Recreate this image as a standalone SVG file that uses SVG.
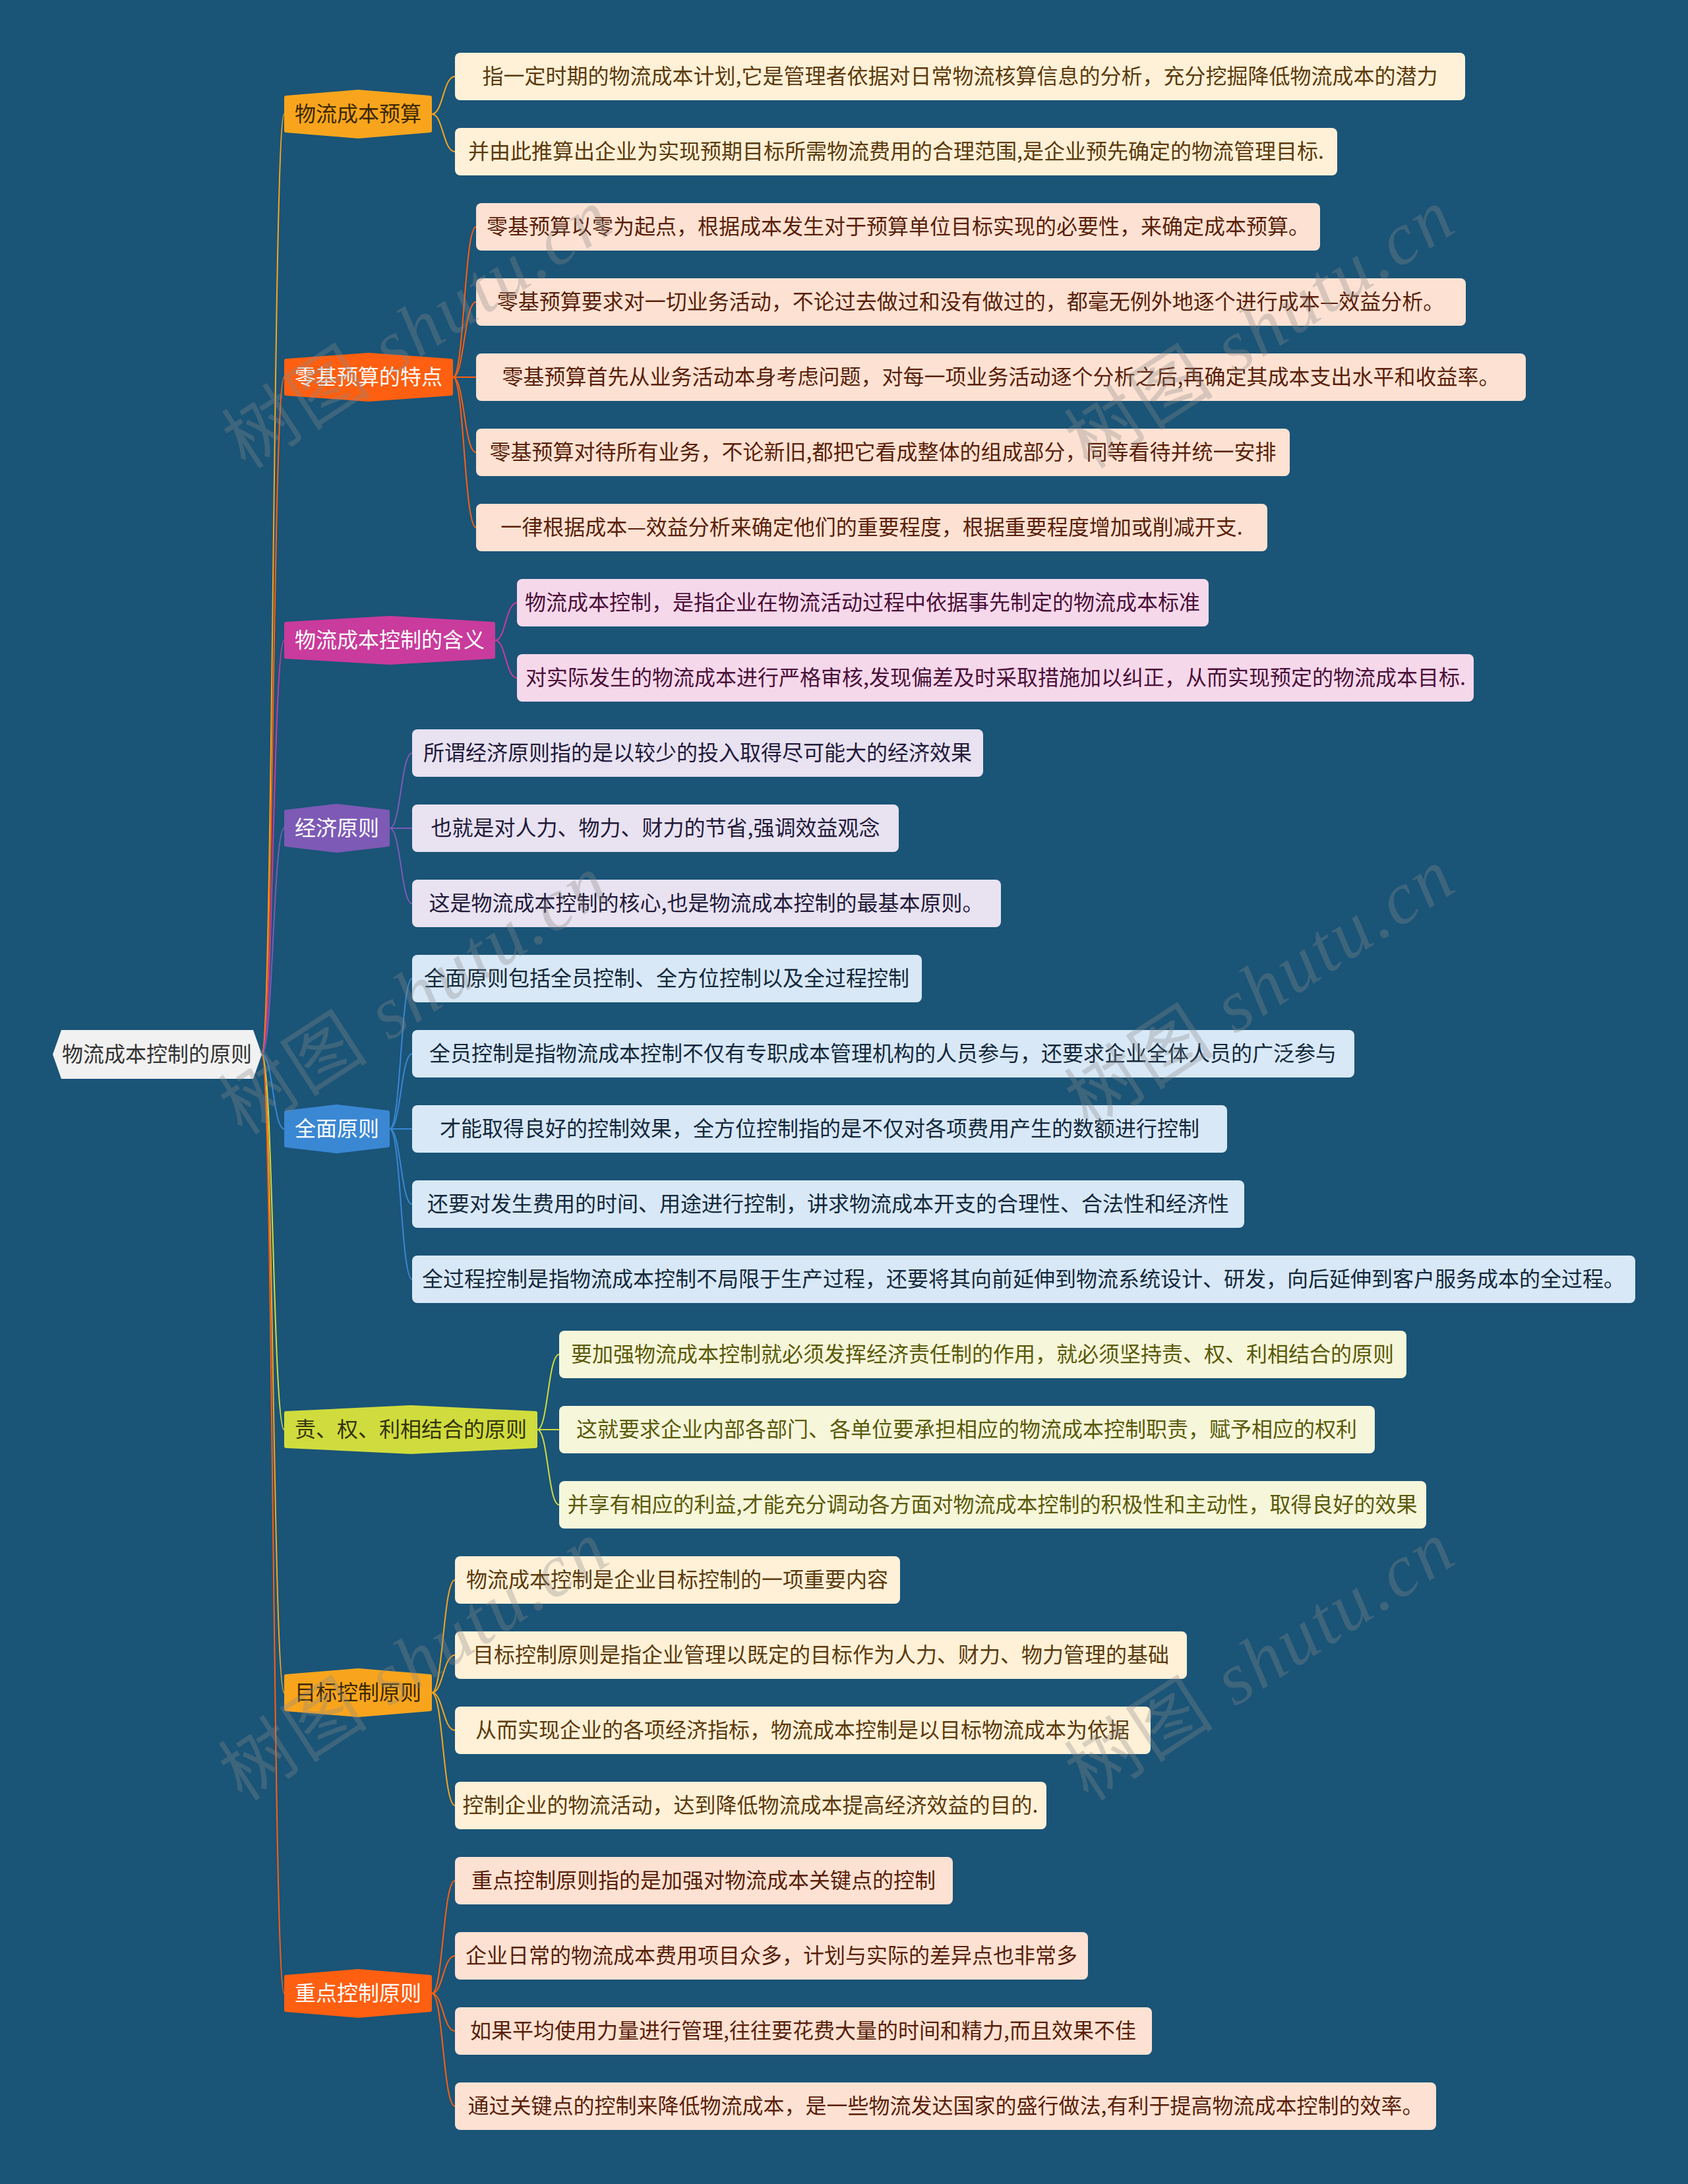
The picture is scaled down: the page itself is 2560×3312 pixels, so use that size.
<svg xmlns="http://www.w3.org/2000/svg" width="2560" height="3312" viewBox="0 0 2560 3312">
<style>
text{font-family:"Noto Sans CJK SC","Liberation Sans",sans-serif;font-size:32px;text-anchor:middle}
.c{fill:none;stroke-width:2}
.leaf{stroke:none}
.hx{stroke-width:6;stroke-linejoin:round}
.wm{font-family:"Liberation Serif","Noto Sans CJK SC",serif;font-size:112px;fill:#8a8a8a;fill-opacity:0.32;text-anchor:middle;letter-spacing:4px}
</style>
<rect x="0" y="0" width="2560" height="3312" fill="#1a5477"/>

<g id="connectors">
<path class="c" stroke="#f8a51d" d="M397 1599C414 1599 414 173 431 173"/>
<path class="c" stroke="#fe5f10" d="M397 1599C414 1599 414 572 431 572"/>
<path class="c" stroke="#c93b9c" d="M397 1599C414 1599 414 971 431 971"/>
<path class="c" stroke="#7d5ab5" d="M397 1599C414 1599 414 1256 431 1256"/>
<path class="c" stroke="#3a87d3" d="M397 1599C414 1599 414 1712 431 1712"/>
<path class="c" stroke="#d0dc3d" d="M397 1599C414 1599 414 2168 431 2168"/>
<path class="c" stroke="#f8a51d" d="M397 1599C414 1599 414 2567 431 2567"/>
<path class="c" stroke="#fe5f10" d="M397 1599C414 1599 414 3023 431 3023"/>

<path class="c" stroke="#f8a51d" d="M655 173C672 173 672 116 690 116"/>
<path class="c" stroke="#f8a51d" d="M655 173C672 173 672 230 690 230"/>

<path class="c" stroke="#fe5f10" d="M687 572C704 572 704 344 722 344"/>
<path class="c" stroke="#fe5f10" d="M687 572C704 572 704 458 722 458"/>
<path class="c" stroke="#fe5f10" d="M687 572C704 572 704 572 722 572"/>
<path class="c" stroke="#fe5f10" d="M687 572C704 572 704 686 722 686"/>
<path class="c" stroke="#fe5f10" d="M687 572C704 572 704 800 722 800"/>

<path class="c" stroke="#c93b9c" d="M751 971C767 971 767 914 784 914"/>
<path class="c" stroke="#c93b9c" d="M751 971C767 971 767 1028 784 1028"/>

<path class="c" stroke="#7d5ab5" d="M591 1256C608 1256 608 1142 625 1142"/>
<path class="c" stroke="#7d5ab5" d="M591 1256C608 1256 608 1256 625 1256"/>
<path class="c" stroke="#7d5ab5" d="M591 1256C608 1256 608 1370 625 1370"/>

<path class="c" stroke="#3a87d3" d="M591 1712C608 1712 608 1484 625 1484"/>
<path class="c" stroke="#3a87d3" d="M591 1712C608 1712 608 1598 625 1598"/>
<path class="c" stroke="#3a87d3" d="M591 1712C608 1712 608 1712 625 1712"/>
<path class="c" stroke="#3a87d3" d="M591 1712C608 1712 608 1826 625 1826"/>
<path class="c" stroke="#3a87d3" d="M591 1712C608 1712 608 1940 625 1940"/>

<path class="c" stroke="#d0dc3d" d="M815 2168C831 2168 831 2054 848 2054"/>
<path class="c" stroke="#d0dc3d" d="M815 2168C831 2168 831 2168 848 2168"/>
<path class="c" stroke="#d0dc3d" d="M815 2168C831 2168 831 2282 848 2282"/>

<path class="c" stroke="#f8a51d" d="M655 2567C672 2567 672 2396 690 2396"/>
<path class="c" stroke="#f8a51d" d="M655 2567C672 2567 672 2510 690 2510"/>
<path class="c" stroke="#f8a51d" d="M655 2567C672 2567 672 2624 690 2624"/>
<path class="c" stroke="#f8a51d" d="M655 2567C672 2567 672 2738 690 2738"/>

<path class="c" stroke="#fe5f10" d="M655 3023C672 3023 672 2852 690 2852"/>
<path class="c" stroke="#fe5f10" d="M655 3023C672 3023 672 2966 690 2966"/>
<path class="c" stroke="#fe5f10" d="M655 3023C672 3023 672 3080 690 3080"/>
<path class="c" stroke="#fe5f10" d="M655 3023C672 3023 672 3194 690 3194"/>
</g>

<g id="root">
<polygon points="80,1599 93,1562 384,1562 397,1599 384,1636 93,1636" fill="#f1f1f1"/>
<text x="238" y="1610" fill="#333333">物流成本控制的原则</text>
</g>

<g id="b1">
<polygon class="hx" points="434,148 543,139 652,148 652,198 543,207 434,198" fill="#f8a51d" stroke="#f8a51d"/>
<text x="543" y="184" fill="#3c2800">物流成本预算</text>
</g>
<g id="b2">
<polygon class="hx" points="434,547 559,538 684,547 684,597 559,606 434,597" fill="#fe5f10" stroke="#fe5f10"/>
<text x="559" y="583" fill="#ffffff">零基预算的特点</text>
</g>
<g id="b3">
<polygon class="hx" points="434,946 591,937 748,946 748,996 591,1005 434,996" fill="#c93b9c" stroke="#c93b9c"/>
<text x="591" y="982" fill="#ffffff">物流成本控制的含义</text>
</g>
<g id="b4">
<polygon class="hx" points="434,1231 511,1222 588,1231 588,1281 511,1290 434,1281" fill="#7d5ab5" stroke="#7d5ab5"/>
<text x="511" y="1267" fill="#ffffff">经济原则</text>
</g>
<g id="b5">
<polygon class="hx" points="434,1687 511,1678 588,1687 588,1737 511,1746 434,1737" fill="#3a87d3" stroke="#3a87d3"/>
<text x="511" y="1723" fill="#ffffff">全面原则</text>
</g>
<g id="b6">
<polygon class="hx" points="434,2143 623,2134 812,2143 812,2193 623,2202 434,2193" fill="#d0dc3d" stroke="#d0dc3d"/>
<text x="623" y="2179" fill="#33330a">责、权、利相结合的原则</text>
</g>
<g id="b7">
<polygon class="hx" points="434,2542 543,2533 652,2542 652,2592 543,2601 434,2592" fill="#f8a51d" stroke="#f8a51d"/>
<text x="543" y="2578" fill="#3c2800">目标控制原则</text>
</g>
<g id="b8">
<polygon class="hx" points="434,2998 543,2989 652,2998 652,3048 543,3057 434,3048" fill="#fe5f10" stroke="#fe5f10"/>
<text x="543" y="3034" fill="#ffffff">重点控制原则</text>
</g>

<g id="b1-leaves" fill="#fef1d7">
<g id="l1-1"><rect x="690" y="80" width="1532" height="72" rx="8" fill="#fef1d7"/><text x="1456" y="127" fill="#5c3a0e">指一定时期的物流成本计划,它是管理者依据对日常物流核算信息的分析，充分挖掘降低物流成本的潜力</text></g>
<g id="l1-2"><rect x="690" y="194" width="1338" height="72" rx="8" fill="#fef1d7"/><text x="1359" y="241" fill="#5c3a0e">并由此推算出企业为实现预期目标所需物流费用的合理范围,是企业预先确定的物流管理目标.</text></g>
</g>

<g id="b2-leaves">
<g id="l2-1"><rect x="722" y="308" width="1280" height="72" rx="8" fill="#fde2d3"/><text x="1362" y="355" fill="#5a1f0a">零基预算以零为起点，根据成本发生对于预算单位目标实现的必要性，来确定成本预算。</text></g>
<g id="l2-2"><rect x="722" y="422" width="1501" height="72" rx="8" fill="#fde2d3"/><text x="1472" y="469" fill="#5a1f0a">零基预算要求对一切业务活动，不论过去做过和没有做过的，都毫无例外地逐个进行成本—效益分析。</text></g>
<g id="l2-3"><rect x="722" y="536" width="1592" height="72" rx="8" fill="#fde2d3"/><text x="1518" y="583" fill="#5a1f0a">零基预算首先从业务活动本身考虑问题，对每一项业务活动逐个分析之后,再确定其成本支出水平和收益率。</text></g>
<g id="l2-4"><rect x="722" y="650" width="1234" height="72" rx="8" fill="#fde2d3"/><text x="1339" y="697" fill="#5a1f0a">零基预算对待所有业务，不论新旧,都把它看成整体的组成部分，同等看待并统一安排</text></g>
<g id="l2-5"><rect x="722" y="764" width="1200" height="72" rx="8" fill="#fde2d3"/><text x="1322" y="811" fill="#5a1f0a">一律根据成本—效益分析来确定他们的重要程度，根据重要程度增加或削减开支.</text></g>
</g>

<g id="b3-leaves">
<g id="l3-1"><rect x="784" y="878" width="1049" height="72" rx="8" fill="#f6d8eb"/><text x="1308" y="925" fill="#4a1038">物流成本控制，是指企业在物流活动过程中依据事先制定的物流成本标准</text></g>
<g id="l3-2"><rect x="784" y="992" width="1451" height="72" rx="8" fill="#f6d8eb"/><text x="1510" y="1039" fill="#4a1038">对实际发生的物流成本进行严格审核,发现偏差及时采取措施加以纠正，从而实现预定的物流成本目标.</text></g>
</g>

<g id="b4-leaves">
<g id="l4-1"><rect x="625" y="1106" width="866" height="72" rx="8" fill="#e8e2f1"/><text x="1058" y="1153" fill="#221a3a">所谓经济原则指的是以较少的投入取得尽可能大的经济效果</text></g>
<g id="l4-2"><rect x="625" y="1220" width="738" height="72" rx="8" fill="#e8e2f1"/><text x="994" y="1267" fill="#221a3a">也就是对人力、物力、财力的节省,强调效益观念</text></g>
<g id="l4-3"><rect x="625" y="1334" width="893" height="72" rx="8" fill="#e8e2f1"/><text x="1071" y="1381" fill="#221a3a">这是物流成本控制的核心,也是物流成本控制的最基本原则。</text></g>
</g>

<g id="b5-leaves">
<g id="l5-1"><rect x="625" y="1448" width="773" height="72" rx="8" fill="#d8e8f6"/><text x="1011" y="1495" fill="#14283c">全面原则包括全员控制、全方位控制以及全过程控制</text></g>
<g id="l5-2"><rect x="625" y="1562" width="1429" height="72" rx="8" fill="#d8e8f6"/><text x="1339" y="1609" fill="#14283c">全员控制是指物流成本控制不仅有专职成本管理机构的人员参与，还要求企业全体人员的广泛参与</text></g>
<g id="l5-3"><rect x="625" y="1676" width="1236" height="72" rx="8" fill="#d8e8f6"/><text x="1243" y="1723" fill="#14283c">才能取得良好的控制效果，全方位控制指的是不仅对各项费用产生的数额进行控制</text></g>
<g id="l5-4"><rect x="625" y="1790" width="1262" height="72" rx="8" fill="#d8e8f6"/><text x="1256" y="1837" fill="#14283c">还要对发生费用的时间、用途进行控制，讲求物流成本开支的合理性、合法性和经济性</text></g>
<g id="l5-5"><rect x="625" y="1904" width="1855" height="72" rx="8" fill="#d8e8f6"/><text x="1552" y="1951" fill="#14283c">全过程控制是指物流成本控制不局限于生产过程，还要将其向前延伸到物流系统设计、研发，向后延伸到客户服务成本的全过程。</text></g>
</g>

<g id="b6-leaves">
<g id="l6-1"><rect x="848" y="2018" width="1285" height="72" rx="8" fill="#f6f6da"/><text x="1490" y="2065" fill="#5a5a0a">要加强物流成本控制就必须发挥经济责任制的作用，就必须坚持责、权、利相结合的原则</text></g>
<g id="l6-2"><rect x="848" y="2132" width="1237" height="72" rx="8" fill="#f6f6da"/><text x="1466" y="2179" fill="#5a5a0a">这就要求企业内部各部门、各单位要承担相应的物流成本控制职责，赋予相应的权利</text></g>
<g id="l6-3"><rect x="848" y="2246" width="1315" height="72" rx="8" fill="#f6f6da"/><text x="1505" y="2293" fill="#5a5a0a">并享有相应的利益,才能充分调动各方面对物流成本控制的积极性和主动性，取得良好的效果</text></g>
</g>

<g id="b7-leaves">
<g id="l7-1"><rect x="690" y="2360" width="675" height="72" rx="8" fill="#fef1d7"/><text x="1027" y="2407" fill="#5c3a0e">物流成本控制是企业目标控制的一项重要内容</text></g>
<g id="l7-2"><rect x="690" y="2474" width="1110" height="72" rx="8" fill="#fef1d7"/><text x="1245" y="2521" fill="#5c3a0e">目标控制原则是指企业管理以既定的目标作为人力、财力、物力管理的基础</text></g>
<g id="l7-3"><rect x="690" y="2588" width="1055" height="72" rx="8" fill="#fef1d7"/><text x="1217" y="2635" fill="#5c3a0e">从而实现企业的各项经济指标，物流成本控制是以目标物流成本为依据</text></g>
<g id="l7-4"><rect x="690" y="2702" width="897" height="72" rx="8" fill="#fef1d7"/><text x="1138" y="2749" fill="#5c3a0e">控制企业的物流活动，达到降低物流成本提高经济效益的目的.</text></g>
</g>

<g id="b8-leaves">
<g id="l8-1"><rect x="690" y="2816" width="755" height="72" rx="8" fill="#fde2d3"/><text x="1067" y="2863" fill="#5a1f0a">重点控制原则指的是加强对物流成本关键点的控制</text></g>
<g id="l8-2"><rect x="690" y="2930" width="960" height="72" rx="8" fill="#fde2d3"/><text x="1170" y="2977" fill="#5a1f0a">企业日常的物流成本费用项目众多，计划与实际的差异点也非常多</text></g>
<g id="l8-3"><rect x="690" y="3044" width="1057" height="72" rx="8" fill="#fde2d3"/><text x="1218" y="3091" fill="#5a1f0a">如果平均使用力量进行管理,往往要花费大量的时间和精力,而且效果不佳</text></g>
<g id="l8-4"><rect x="690" y="3158" width="1488" height="72" rx="8" fill="#fde2d3"/><text x="1434" y="3205" fill="#5a1f0a">通过关键点的控制来降低物流成本，是一些物流发达国家的盛行做法,有利于提高物流成本控制的效率。</text></g>
</g>

<g id="watermarks">
<text class="wm" transform="translate(655,530) rotate(-33)">树图 <tspan font-style="italic">shutu.cn</tspan></text>
<text class="wm" transform="translate(1933,530) rotate(-33)">树图 <tspan font-style="italic">shutu.cn</tspan></text>
<text class="wm" transform="translate(650,1540) rotate(-33)">树图 <tspan font-style="italic">shutu.cn</tspan></text>
<text class="wm" transform="translate(1933,1530) rotate(-33)">树图 <tspan font-style="italic">shutu.cn</tspan></text>
<text class="wm" transform="translate(650,2550) rotate(-33)">树图 <tspan font-style="italic">shutu.cn</tspan></text>
<text class="wm" transform="translate(1933,2550) rotate(-33)">树图 <tspan font-style="italic">shutu.cn</tspan></text>
</g>
</svg>
